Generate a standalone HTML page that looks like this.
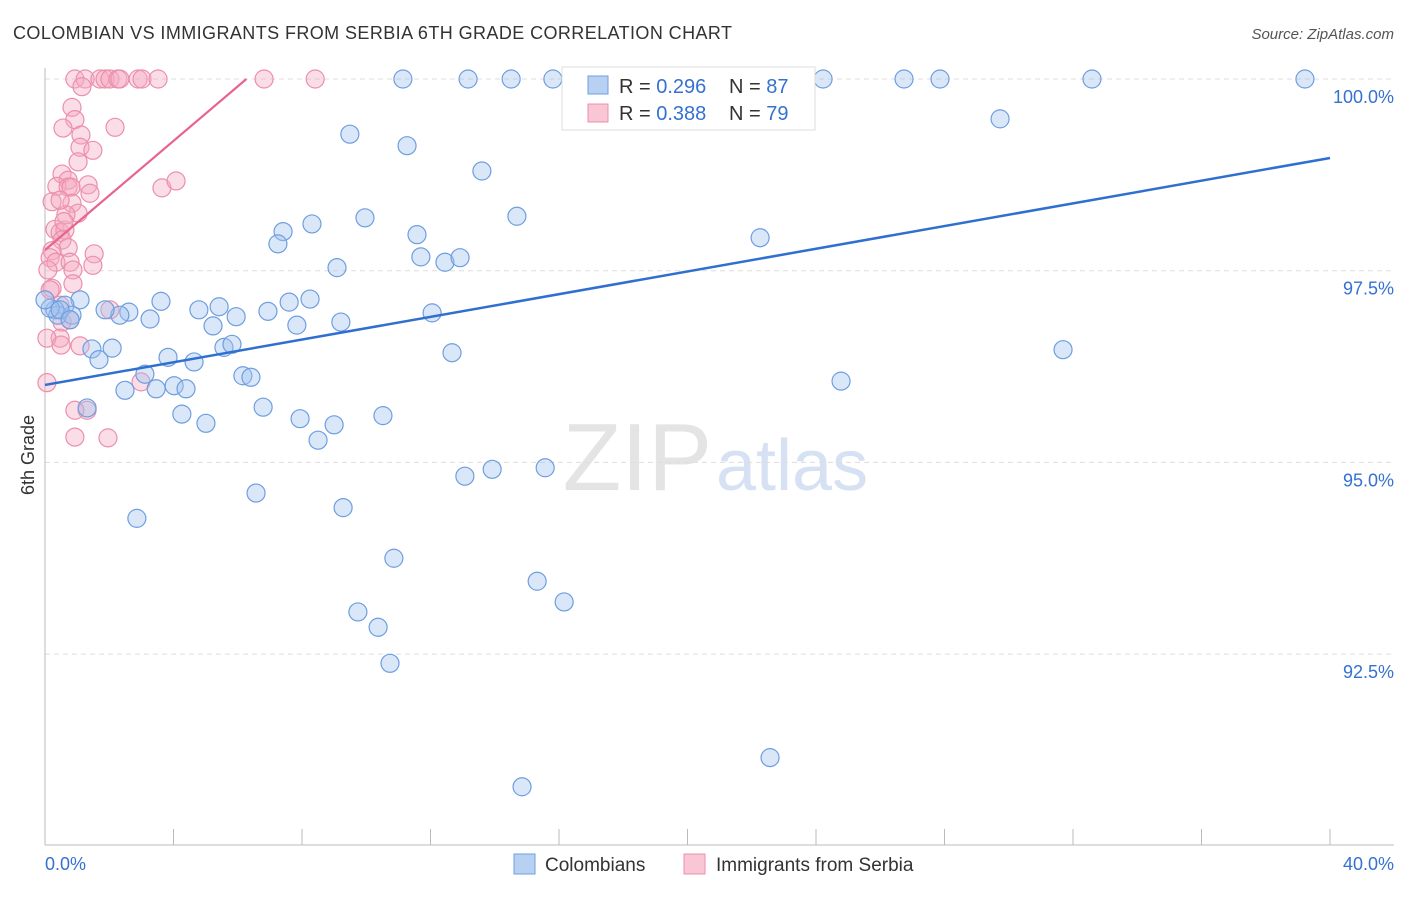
<!DOCTYPE html>
<html><head><meta charset="utf-8"><style>
body{margin:0;background:#fff;font-family:"Liberation Sans",sans-serif;}
svg text{font-family:"Liberation Sans",sans-serif;}
</style></head><body>
<svg id="chart" width="1406" height="892">
<text x="13" y="39" font-size="18" fill="#333" textLength="719">COLOMBIAN VS IMMIGRANTS FROM SERBIA 6TH GRADE CORRELATION CHART</text>
<text x="1394" y="39" font-size="15" fill="#555" text-anchor="end" font-style="italic">Source: ZipAtlas.com</text>
<text x="712" y="490" font-size="96" fill="#e4e4e4" text-anchor="end" font-family="Liberation Serif">ZIP</text>
<text x="716" y="490" font-size="72" fill="#d6e2f3">atlas</text>
<text x="34" y="455" font-size="18" fill="#333" text-anchor="middle" transform="rotate(-90 34 455)">6th Grade</text>
<g id="grid"></g><g id="pts"></g><g id="lines"></g>
<g>
<rect x="562" y="67" width="253" height="63" fill="#fff" stroke="#ddd"/>
<rect x="588" y="76" width="20" height="18" fill="#b8d1f3" stroke="#6e9ee0"/>
<rect x="588" y="104" width="20" height="18" fill="#f9c6d5" stroke="#ec8fab"/>
<text x="619" y="93" font-size="20" fill="#333">R = <tspan fill="#3571d0">0.296</tspan></text>
<text x="729" y="93" font-size="20" fill="#333">N = <tspan fill="#3571d0">87</tspan></text>
<text x="619" y="120" font-size="20" fill="#333">R = <tspan fill="#3571d0">0.388</tspan></text>
<text x="729" y="120" font-size="20" fill="#333">N = <tspan fill="#3571d0">79</tspan></text>
</g>
<g>
<rect x="514" y="854" width="21" height="20" fill="#b8d1f3" stroke="#6e9ee0"/>
<text x="545" y="871" font-size="19" fill="#333">Colombians</text>
<rect x="684" y="854" width="21" height="20" fill="#f9c6d5" stroke="#ec8fab"/>
<text x="716" y="871" font-size="19" fill="#333">Immigrants from Serbia</text>
</g>
<text x="45" y="870" font-size="18" fill="#3571d0">0.0%</text>
<text x="1394" y="870" font-size="18" fill="#3571d0" text-anchor="end">40.0%</text>
</svg>
<script>
const yTicks=[100,97.5,95,92.5];
const yTickLabels=["100.0%","97.5%","95.0%","92.5%"];
const blueX=[11.14,13.17,14.51,15.81,24.22,26.74,27.86,32.59,39.22,29.73,9.49,11.27,13.60,14.69,9.96,7.41,8.31,7.25,11.58,22.26,11.70,12.45,12.92,9.09,1.09,3.61,5.42,4.79,5.95,6.94,7.60,8.25,7.84,5.23,9.21,12.05,2.61,2.33,3.27,1.87,0.62,0.31,0.40,0.84,1.46,2.09,1.68,3.83,4.64,5.57,5.82,6.16,6.41,12.67,31.69,24.78,3.11,2.49,3.46,4.02,4.39,1.31,4.26,5.01,6.79,7.94,8.50,9.00,10.52,13.07,13.92,15.57,6.57,9.28,2.86,10.86,15.32,16.16,9.74,10.37,10.74,22.57,14.85,0.16,0.0,0.47,0.78];
const blueY=[100,100,100,100,100,100,100,100,100,99.48,99.28,99.13,98.80,98.21,98.19,98.01,98.11,97.85,97.97,97.93,97.68,97.61,97.67,97.54,97.12,97.10,97.03,96.99,96.90,96.97,97.09,97.13,96.79,96.78,96.83,96.95,96.96,96.92,96.87,96.99,97.05,96.99,96.92,96.92,96.48,96.49,96.34,96.37,96.31,96.50,96.54,96.13,96.11,96.43,96.47,96.06,96.15,95.94,95.96,96.00,95.96,95.71,95.63,95.51,95.72,95.57,95.29,95.49,95.61,94.82,94.91,94.93,94.60,94.41,94.27,93.75,93.45,93.18,93.05,92.85,92.38,91.15,90.77,97.01,97.12,96.99,96.86];
const pinkX=[0.93,1.25,1.71,1.87,2.02,2.27,2.33,2.90,3.02,3.52,6.82,8.41,1.15,0.84,0.93,0.56,2.18,1.12,1.09,1.49,1.03,0.53,0.72,1.34,0.37,0.72,0.81,1.40,3.64,4.08,0.84,0.22,1.03,0.31,0.47,0.62,0.53,0.72,0.22,1.53,0.16,0.34,0.78,0.87,1.49,0.09,0.87,0.22,0.47,0.53,2.02,0.78,0.47,0.06,1.09,0.50,0.06,2.99,1.31,0.93,0.93,1.96,0.16,0.65,0.47,0.59];
const pinkY=[100,100,100,100,100,100,100,100,100,100,100,100,99.90,99.63,99.47,99.36,99.37,99.27,99.11,99.07,98.92,98.76,98.68,98.62,98.60,98.59,98.59,98.51,98.58,98.67,98.38,98.40,98.25,98.04,98.00,98.03,97.90,97.80,97.76,97.72,97.67,97.61,97.61,97.51,97.57,97.51,97.33,97.27,97.05,96.83,96.99,96.86,96.62,96.62,96.52,96.53,96.04,96.05,95.68,95.68,95.33,95.32,97.25,98.23,98.42,98.14];
const blueTrend=[[0,96.01],[40,98.97]];
const pinkTrend=[[0,97.77],[6.27,100]];
const NS="http://www.w3.org/2000/svg";
const xS=v=>45+v/40*1285;
const yS=v=>79+(100-v)/2.5*191.7;
function mk(tag,attrs,parent){const e=document.createElementNS(NS,tag);for(const k in attrs)e.setAttribute(k,attrs[k]);parent.appendChild(e);return e;}
const svg=document.getElementById('chart');
const grid=document.getElementById('grid');
yTicks.forEach((t,i)=>{
 const l=mk('line',{x1:45,x2:1394,y1:yS(t),y2:yS(t),stroke:'#ddd','stroke-dasharray':'5,4'},grid);
 
 
 const tx=mk('text',{x:1394,y:yS(t)+24,'font-size':18,fill:'#3571d0','text-anchor':'end'},grid);
 tx.textContent=yTickLabels[i];
 
 
});
const ax=mk('line',{x1:45,x2:45,y1:68,y2:845,stroke:'#bbb'},grid);


const bx=mk('line',{x1:45,x2:1394,y1:845,y2:845,stroke:'#bbb'},grid);


for(let i=0;i<=10;i++){const t=mk('line',{x1:xS(i*4),x2:xS(i*4),y1:829,y2:845,stroke:'#bbb'},grid);
 
 }
const pts=document.getElementById('pts');
pinkX.forEach((x,i)=>{const c=mk('circle',{cx:xS(x),cy:yS(pinkY[i]),r:9,fill:'rgba(246,170,195,0.4)',stroke:'#ec8fab','stroke-width':1.2},pts);
 
 });
blueX.forEach((x,i)=>{const c=mk('circle',{cx:xS(x),cy:yS(blueY[i]),r:9,fill:'rgba(160,195,240,0.4)',stroke:'#6e9ee0','stroke-width':1.2},pts);
 
 });
const lines=document.getElementById('lines');
const bl=mk('line',{x1:xS(blueTrend[0][0]),y1:yS(blueTrend[0][1]),x2:xS(blueTrend[1][0]),y2:yS(blueTrend[1][1]),stroke:'#2f6fd0','stroke-width':2.5},lines);


const pl=mk('line',{x1:xS(pinkTrend[0][0]),y1:yS(pinkTrend[0][1]),x2:xS(pinkTrend[1][0]),y2:yS(pinkTrend[1][1]),stroke:'#e8648f','stroke-width':2.2},lines);


</script>
</body></html>
